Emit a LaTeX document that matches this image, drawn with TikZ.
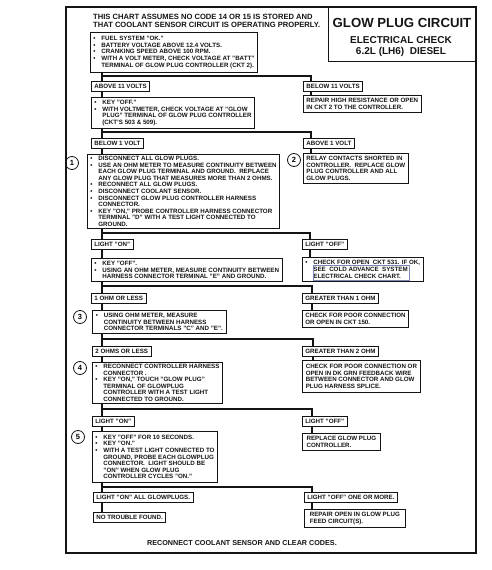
\documentclass[tikz,border=0pt]{standalone}
\usepackage{fontspec}
\setmainfont{Liberation Sans}
\usetikzlibrary{positioning}
\definecolor{ScanInk}{HTML}{141414}
\definecolor{SeeBlue}{HTML}{7A86B8}
\newcommand\boxfont{\fontsize{6.2}{6.6}\selectfont\bfseries}
\newcommand\bul{\makebox[8pt][l]{\textbullet}}
\newcommand\contd{\hspace*{8pt}}
\tikzset{
  chartbox/.style={draw=ScanInk, line width=0.8pt, inner xsep=3pt, inner ysep=1.5pt,
    align=left, anchor=north west, font=\boxfont, text=ScanInk},
  sized/.style 2 args={minimum width=#1pt, minimum height=#2pt},
  tagbox/.style={chartbox, minimum height=10pt, inner ysep=1pt},
  stepnum/.style={draw=ScanInk, circle, line width=0.8pt, inner sep=0pt,
    minimum size=13pt, font=\fontsize{7.5}{8}\selectfont\bfseries},
  flow/.style={draw=ScanInk, line width=1.8pt}
}

\begin{document}
\begin{tikzpicture}[x=1pt, y=-1pt]
    \useasboundingbox (0,0) rectangle (492,570);
    \draw[ScanInk, line width=1.2pt] (66,7) rectangle (476,553);

    \node[draw=ScanInk, line width=0.8pt, anchor=north east, minimum width=147pt, minimum height=54pt] (titlebox) at (476,7) {};
    \node[font=\fontsize{13.2}{14}\selectfont\bfseries, text=ScanInk] (gpc) at (402,23) {GLOW PLUG CIRCUIT};
    \node[font=\fontsize{10}{11}\selectfont\bfseries, align=center, text=ScanInk] (ecd) at (401,46.5) {ELECTRICAL CHECK\\6.2L (LH6)~ DIESEL};

    \node[anchor=west, inner sep=0pt, align=left, font=\fontsize{7.6}{8.2}\selectfont\bfseries, text=ScanInk] (assume) at (93,21)
      {THIS CHART ASSUMES NO CODE 14 OR 15 IS STORED AND\\THAT COOLANT SENSOR CIRCUIT IS OPERATING PROPERLY.};

    \node[chartbox, sized={167}{40}] (fuel) at (90,32)
      {\bul FUEL SYSTEM "OK."\\\bul BATTERY VOLTAGE ABOVE 12.4 VOLTS.\\\bul CRANKING SPEED ABOVE 100 RPM.\\
       \bul WITH A VOLT METER, CHECK VOLTAGE AT "BATT"\\\contd TERMINAL OF GLOW PLUG CONTROLLER (CKT 2).};

    \node[tagbox] (above11) at (91,81) {ABOVE 11 VOLTS};
    \node[tagbox] (below11) at (303,81) {BELOW 11 VOLTS};
    \node[chartbox, sized={114}{17}] (repair11) at (303,95) {REPAIR HIGH RESISTANCE OR OPEN\\IN CKT 2 TO THE CONTROLLER.};

    \node[chartbox, sized={115}{31}] (keyoff) at (91,97)
      {\bul KEY "OFF."\\\bul WITH VOLTMETER, CHECK VOLTAGE AT "GLOW\\\contd PLUG" TERMINAL OF GLOW PLUG CONTROLLER\\\contd (CKT'S 503 \& 509).};

    \node[tagbox] (below1) at (91,138) {BELOW 1 VOLT};
    \node[tagbox] (above1) at (303,138) {ABOVE 1 VOLT};

    \node[chartbox, sized={192}{74}] (step1) at (87,154)
      {\bul DISCONNECT ALL GLOW PLUGS.\\
       \bul USE AN OHM METER TO MEASURE CONTINUITY BETWEEN\\
       \contd EACH GLOW PLUG TERMINAL AND GROUND.~ REPLACE\\
       \contd ANY GLOW PLUG THAT MEASURES MORE THAN 2 OHMS.\\
       \bul RECONNECT ALL GLOW PLUGS.\\
       \bul DISCONNECT COOLANT SENSOR.\\
       \bul DISCONNECT GLOW PLUG CONTROLLER HARNESS\\
       \contd CONNECTOR.\\
       \bul KEY "ON," PROBE CONTROLLER HARNESS CONNECTOR\\
       \contd TERMINAL "D" WITH A TEST LIGHT CONNECTED TO\\
       \contd GROUND.};
    \node[stepnum] (num1) at (72,163) {1};

    \node[chartbox, sized={98}{30}] (relay) at (303,153)
      {RELAY CONTACTS SHORTED IN\\CONTROLLER.~ REPLACE GLOW\\PLUG CONTROLLER AND ALL\\GLOW PLUGS.};
    \node[stepnum] (num2) at (294,160) {2};

    \node[tagbox] (lighton1) at (91,239) {LIGHT "ON"};
    \node[tagbox] (lightoff1) at (302,239) {LIGHT "OFF"};

    \node[chartbox, sized={189}{23}] (ohmcheck) at (91,258)
      {\bul KEY "OFF".\\\bul USING AN OHM METER, MEASURE CONTINUITY BETWEEN\\\contd HARNESS CONNECTOR TERMINAL "E" AND GROUND.};
    \node[chartbox, sized={116}{24}] (cold) at (302,257)
      {\bul CHECK FOR OPEN~ CKT 531. IF OK,\\\contd SEE~ COLD ADVANCE~ SYSTEM\\\contd ELECTRICAL CHECK CHART.};
    \draw[SeeBlue, line width=0.5pt] ([xshift=11pt,yshift=-8pt]cold.north west) rectangle ([xshift=-14pt,yshift=2pt]cold.south east);

    \node[tagbox] (ohm1) at (91,292.5) {1 OHM OR LESS};
    \node[tagbox] (gt1) at (302,292.5) {GREATER THAN 1 OHM};

    \node[chartbox, sized={134}{23}] (step3) at (92,310)
      {\bul USING OHM METER, MEASURE\\\contd CONTINUITY BETWEEN HARNESS\\\contd CONNECTOR TERMINALS "C" AND "E".};
    \node[stepnum] (num3) at (80,317) {3};
    \node[chartbox, sized={102}{17}] (ckt150) at (302,310) {CHECK FOR POOR CONNECTION\\OR OPEN IN CKT 150.};

    \node[tagbox] (ohm2) at (92,345.5) {2 OHMS OR LESS};
    \node[tagbox] (gt2) at (302,345.5) {GREATER THAN 2 OHM};

    \node[chartbox, sized={125}{41}] (step4) at (92,362)
      {\bul RECONNECT CONTROLLER HARNESS\\\contd CONNECTOR .\\\bul KEY "ON," TOUCH "GLOW PLUG"\\
       \contd TERMINAL OF GLOWPLUG\\\contd CONTROLLER WITH A TEST LIGHT\\\contd CONNECTED TO GROUND.};
    \node[stepnum] (num4) at (80,368) {4};
    \node[chartbox, sized={118}{32}] (dkgrn) at (302,360)
      {CHECK FOR POOR CONNECTION OR\\OPEN IN DK GRN FEEDBACK WIRE\\BETWEEN CONNECTOR AND GLOW\\PLUG HARNESS SPLICE.};

    \node[tagbox] (lighton2) at (92,416) {LIGHT "ON"};
    \node[tagbox] (lightoff2) at (302,416) {LIGHT "OFF"};

    \node[chartbox, sized={125}{51}] (step5) at (92,431)
      {\bul KEY "OFF" FOR 10 SECONDS.\\\bul KEY "ON."\\\bul WITH A TEST LIGHT CONNECTED TO\\
       \contd GROUND, PROBE EACH GLOWPLUG\\\contd CONNECTOR.~ LIGHT SHOULD BE\\
       \contd "ON" WHEN GLOW PLUG\\\contd CONTROLLER CYCLES "ON."};
    \node[stepnum] (num5) at (78,437) {5};
    \node[chartbox, sized={78}{17}] (replace) at (302,433) {REPLACE GLOW PLUG\\CONTROLLER.};

    \node[tagbox] (allon) at (93,492) {LIGHT "ON" ALL GLOWPLUGS.};
    \node[tagbox] (oneoff) at (304,492) {LIGHT "OFF" ONE OR MORE.};
    \node[tagbox] (notrouble) at (93,512) {NO TROUBLE FOUND.};
    \node[chartbox, sized={101}{18}] (repairfeed) at (304,509) {REPAIR OPEN IN GLOW PLUG\\FEED CIRCUIT(S).};

    \node[font=\fontsize{7.2}{8}\selectfont\bfseries, text=ScanInk] (reconnect) at (242,543) {RECONNECT COOLANT SENSOR AND CLEAR CODES.};

    \coordinate (j1) at (102,76);
    \coordinate (j2) at (102,132);
    \coordinate (j3) at (102,233);
    \coordinate (j4) at (102,286);
    \coordinate (j5) at (102,339);
    \coordinate (j6) at (102,409);
    \coordinate (j7) at (102,487);

    \draw[flow] (fuel.south -| j1) -- (above11.north -| j1);
    \draw[flow] (j1) -| ([xshift=8pt]below11.north west);
    \draw[flow] (above11.south -| j1) -- (keyoff.north -| j1);
    \draw[flow] ([xshift=8pt]below11.south west) -- ([xshift=8pt]repair11.north west);

    \draw[flow] (keyoff.south -| j2) -- (below1.north -| j2);
    \draw[flow] (j2) -| ([xshift=8pt]above1.north west);
    \draw[flow] (below1.south -| j2) -- (step1.north -| j2);
    \draw[flow] ([xshift=8pt]above1.south west) -- ([xshift=8pt]relay.north west);

    \draw[flow] (step1.south -| j3) -- (lighton1.north -| j3);
    \draw[flow] (j3) -| ([xshift=8pt]lightoff1.north west);
    \draw[flow] (lighton1.south -| j3) -- (ohmcheck.north -| j3);
    \draw[flow] ([xshift=8pt]lightoff1.south west) -- ([xshift=8pt]cold.north west);

    \draw[flow] (ohmcheck.south -| j4) -- (ohm1.north -| j4);
    \draw[flow] (j4) -| ([xshift=10pt]gt1.north west);
    \draw[flow] (ohm1.south -| j4) -- (step3.north -| j4);
    \draw[flow] ([xshift=10pt]gt1.south west) -- ([xshift=10pt]ckt150.north west);

    \draw[flow] (step3.south -| j5) -- (ohm2.north -| j5);
    \draw[flow] (j5) -| ([xshift=11pt]gt2.north west);
    \draw[flow] (ohm2.south -| j5) -- (step4.north -| j5);
    \draw[flow] ([xshift=11pt]gt2.south west) -- ([xshift=11pt]dkgrn.north west);

    \draw[flow] (step4.south -| j6) -- (lighton2.north -| j6);
    \draw[flow] (j6) -| ([xshift=10pt]lightoff2.north west);
    \draw[flow] (lighton2.south -| j6) -- (step5.north -| j6);
    \draw[flow] ([xshift=10pt]lightoff2.south west) -- ([xshift=10pt]replace.north west);

    \draw[flow] (step5.south -| j7) -- (allon.north -| j7);
    \draw[flow] (j7) -| ([xshift=8pt]oneoff.north west);
    \draw[flow] (allon.south -| j7) -- (notrouble.north -| j7);
    \draw[flow] ([xshift=8pt]oneoff.south west) -- ([xshift=8pt]repairfeed.north west);
  \end{tikzpicture}
\end{document}
